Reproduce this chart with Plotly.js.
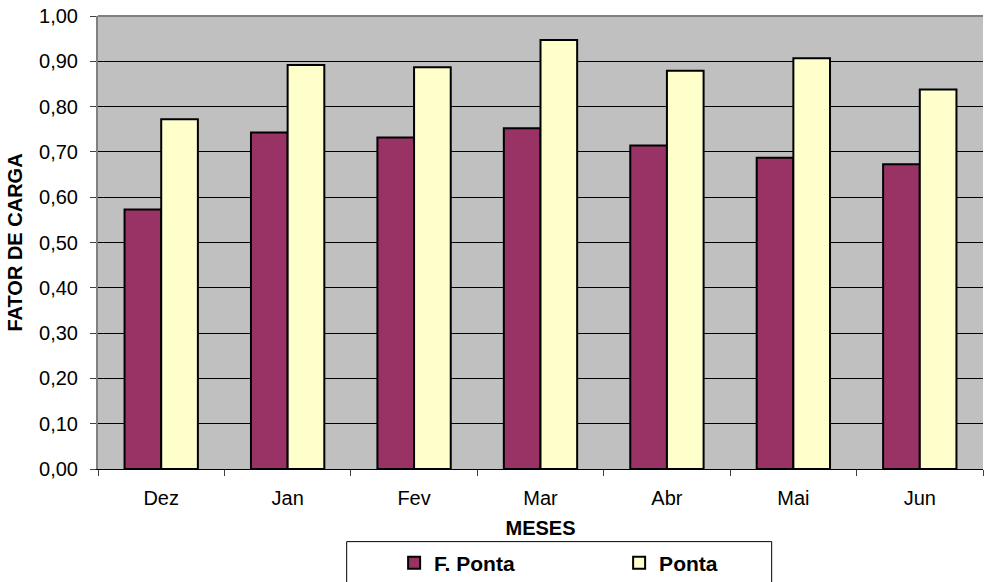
<!DOCTYPE html>
<html>
<head>
<meta charset="utf-8">
<script src="https://cdn.plot.ly/plotly-3.0.1.min.js"></script>
<style>
  html, body { margin: 0; padding: 0; background: #ffffff; }
  #chart { width: 988px; height: 582px; }
</style>
</head>
<body>
<div id="chart"></div>
<script>
// ---- Data ----
var months = ["Dez", "Jan", "Fev", "Mar", "Abr", "Mai", "Jun"];
var fPonta = [0.573, 0.743, 0.732, 0.752, 0.714, 0.687, 0.673];
var ponta  = [0.772, 0.892, 0.887, 0.947, 0.879, 0.907, 0.838];
var seriesNames = ["F. Ponta", "Ponta"];
var yTitle = "FATOR DE CARGA";
var xTitle = "MESES";

var FONT = "'Liberation Sans', Arial, sans-serif";

var traces = [
  {
    type: "bar", name: seriesNames[0], x: months, y: fPonta,
    marker: { color: "#993366", line: { color: "#000000", width: 2 } }
  },
  {
    type: "bar", name: seriesNames[1], x: months, y: ponta,
    marker: { color: "#FFFFCC", line: { color: "#000000", width: 2 } }
  }
];

var layout = {
  width: 988, height: 582,
  margin: { l: 98, r: 5, t: 15.5, b: 113, pad: 0 },
  paper_bgcolor: "#ffffff",
  plot_bgcolor: "#C0C0C0",
  separators: ",.",
  font: { family: FONT, size: 19, color: "#000000" },
  barmode: "group",
  bargap: 0.42,
  bargroupgap: 0,
  xaxis: {
    type: "category",
    showgrid: false,
    showline: true, linecolor: "#000000", linewidth: 1,
    ticks: "outside", tickson: "boundaries", ticklen: 6, tickcolor: "#404040",
    ticklabelstandoff: 11,
    tickfont: { family: FONT, size: 20 },
    automargin: false,
    title: { text: xTitle, font: { family: FONT, size: 20, weight: "bold" }, standoff: 12 }
  },
  yaxis: {
    range: [0, 1], dtick: 0.1, tick0: 0, tickformat: ".2f",
    showgrid: true, gridcolor: "#000000", gridwidth: 1,
    zeroline: false,
    showline: true, linecolor: "#808080", linewidth: 2,
    ticks: "outside", ticklen: 6, tickcolor: "#404040",
    ticklabelstandoff: 8,
    tickfont: { family: FONT, size: 20 },
    automargin: false,
    title: { text: yTitle, font: { family: FONT, size: 20, weight: "bold" }, standoff: 11 }
  },
  showlegend: true,
  legend: {
    orientation: "h",
    xref: "paper", yref: "container",
    x: 0.3346, xanchor: "left",
    y: 0.0326, yanchor: "middle",
    bgcolor: "rgba(0,0,0,0)",
    borderwidth: 0,
    entrywidth: 180,
    font: { family: FONT, size: 21, weight: "bold" }
  },
  shapes: [
    { type: "line", xref: "paper", yref: "paper", x0: 0, x1: 1, y0: 1, y1: 1,
      line: { color: "#808080", width: 2 } },
    { type: "rect", xref: "paper", yref: "paper",
      x0: 0.281, x1: 0.7612, y0: -0.1603, y1: -0.35,
      line: { color: "#000000", width: 1 }, fillcolor: "rgba(0,0,0,0)" }
  ]
};

Plotly.newPlot("chart", traces, layout, { staticPlot: true, displayModeBar: false });
</script>
</body>
</html>
